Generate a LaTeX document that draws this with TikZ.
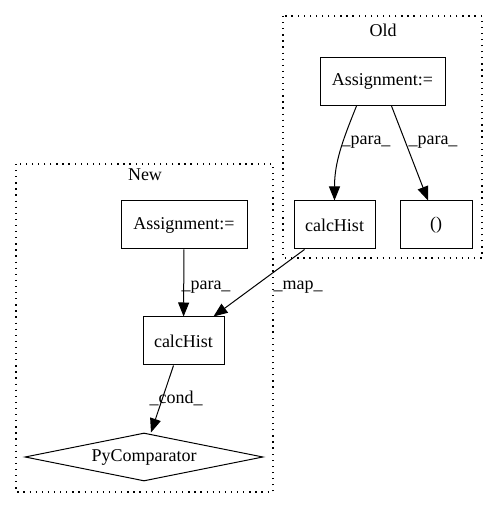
\documentclass[tikz,border=0pt]{standalone}
\usepackage{fontspec}
\setmainfont{Liberation Serif}
\usetikzlibrary{arrows.meta,shapes.geometric}
\tikzset{
	box/.style={draw, line width=1pt, minimum height=48pt, inner sep=0pt},
	cluster/.style={draw, line width=1.2pt, dash pattern=on 1.3pt off 4.8pt},
	edge/.style={line width=1pt, -{Triangle[length=14pt, width=11pt]}},
	lbl/.style={inner sep=0pt}
}
\begin{document}
\begin{tikzpicture}[x=1pt, y=1pt, font=\fontsize{18}{20}\selectfont]
	\useasboundingbox (0,0) rectangle (499,508);
	%Cluster Old
	\draw[cluster] (283,492) rectangle (482,250);
	\node[lbl] (oldLabel) at (383,478) {Old};
	\node[box, minimum width=125pt] (oldAssign) at (382.5,426.5) {Assignment:=};
	\node[box, minimum width=81pt] (oldHist) at (334.5,283) {calcHist};
	\node[box, minimum width=72pt] (oldTuple) at (436,283) {()};
	
	%Cluster New
	\draw[cluster] (16,344) rectangle (273,16);
	\node[lbl] (newLabel) at (145,333) {New};
	\node[box, minimum width=126pt] (newAssign) at (184,283) {Assignment:=};
	\node[box, minimum width=81pt] (newHist) at (183.5,167) {calcHist};
	\node[draw, line width=1pt, diamond, aspect=5, inner sep=0pt, minimum width=238pt, minimum height=48pt] (pyComp) at (144,51) {PyComparator};
	
	%Kanten
	\draw[edge] ([xshift=-26pt]oldAssign.south) to[out=-112, in=90] (oldHist.north);
	\draw[edge] ([xshift=9pt]oldAssign.south) -- ([xshift=-8pt]oldTuple.north);
	\draw[edge] (newAssign) -- (newHist);
	\draw[edge] ([xshift=-30pt]oldHist.south) -- ([xshift=30pt]newHist.north);
	\draw[edge] ([xshift=-10pt]newHist.south) -- ([xshift=7pt]pyComp.north);
	
	%Kantenbeschriftungen
	\node[lbl] (paraA) at (366,366) {\_para\_};
	\node[lbl] (paraB) at (433,366) {\_para\_};
	\node[lbl] (paraC) at (206,221) {\_para\_};
	\node[lbl] (mapA) at (298,221) {\_map\_};
	\node[lbl] (condA) at (176,110) {\_cond\_};
\end{tikzpicture}
\end{document}
